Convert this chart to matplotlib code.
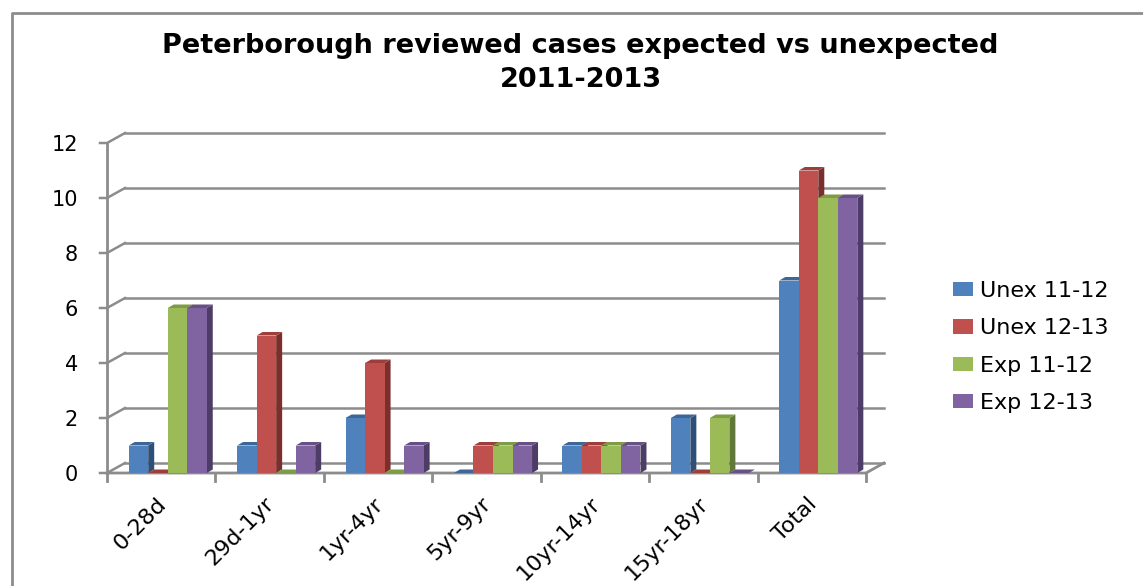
import matplotlib
matplotlib.use("Agg")
import matplotlib.pyplot as plt
from matplotlib.patches import Polygon, Patch
import numpy as np

categories = ["0-28d", "29d-1yr", "1yr-4yr", "5yr-9yr", "10yr-14yr", "15yr-18yr", "Total"]
series_names = ["Unex 11-12", "Unex 12-13", "Exp 11-12", "Exp 12-13"]
unex_11_12 = [1, 1, 2, 0, 1, 2, 7]
unex_12_13 = [0, 5, 4, 1, 1, 0, 11]
exp_11_12 = [6, 0, 0, 1, 1, 2, 10]
exp_12_13 = [6, 1, 1, 1, 1, 0, 10]
yticks = [0, 2, 4, 6, 8, 10, 12]

series = [unex_11_12, unex_12_13, exp_11_12, exp_12_13]
front = ["#4F81BD", "#C0504D", "#9BBB59", "#8064A2"]
top = ["#3C6797", "#9E3E3B", "#7E9B46", "#675085"]
side = ["#2F4F78", "#7A2F2D", "#61783A", "#4D3C66"]
grid_c = "#8C8C8C"

W, H = 1143, 586
fig = plt.figure(figsize=(W / 100, H / 100), dpi=100)

# axes placed so that x unit ~108 px, y unit ~27.5 px
x0_px, y0_px = 107, H - 473
ux, uy = (866 - 107) / 7, (473 - 143) / 12
xmax, ymax = 7.32, 12.6
ax = fig.add_axes([x0_px / W, y0_px / H, xmax * ux / W, ymax * uy / H])
ax.set_xlim(0, xmax)
ax.set_ylim(0, ymax)
for s in ax.spines.values():
    s.set_visible(False)

# wall depth in data units
wdx, wdy = 18 / ux, 10 / uy
n = len(categories)
for v in yticks:
    ax.plot([wdx, n + wdx], [v + wdy, v + wdy], color=grid_c, lw=1.8, zorder=1)
    ax.plot([-7 / ux, 0, wdx], [v, v, v + wdy], color=grid_c, lw=1.8, zorder=1, clip_on=False)
ax.plot([0, 0], [0, 12], color=grid_c, lw=2, zorder=1, clip_on=False)
ax.plot([0, n, n + wdx], [0, 0, wdy], color=grid_c, lw=2, zorder=1, clip_on=False)
for i in range(n + 1):
    ax.plot([i, i], [0, -8 / uy], color=grid_c, lw=2, zorder=1, clip_on=False)

# 3D-like bars
bw = 0.18
bdx, bdy = 6 / ux, 3.5 / uy
z = 2
for i in range(n):
    for k, vals in enumerate(series):
        x = i + 0.2 + k * bw
        v = vals[i]
        ax.add_patch(Polygon([(x + bw, 0), (x + bw + bdx, bdy), (x + bw + bdx, v + bdy), (x + bw, v)],
                             closed=True, facecolor=side[k], edgecolor="none", zorder=z))
        ax.add_patch(Polygon([(x, v), (x + bdx, v + bdy), (x + bw + bdx, v + bdy), (x + bw, v)],
                             closed=True, facecolor=top[k], edgecolor="none", zorder=z))
        ax.bar(x, v, width=bw, align="edge", color=front[k], edgecolor="none", zorder=z)
        z += 0.01

ax.set_yticks(yticks)
ax.set_yticklabels([str(t) for t in yticks], fontsize=15)
ax.tick_params(axis="y", length=0, pad=21)
ax.set_xticks([i + 0.45 for i in range(n)])
ax.set_xticklabels(categories, fontsize=16, rotation=45, ha="right", va="top", rotation_mode="anchor")
ax.tick_params(axis="x", length=0, pad=15)

fig.text(0.508, 1 - 46 / H, "Peterborough reviewed cases expected vs unexpected",
         ha="center", va="center", fontsize=19.5, fontweight="bold")
fig.text(0.508, 1 - 80 / H, "2011-2013",
         ha="center", va="center", fontsize=19.5, fontweight="bold")

handles = [Patch(facecolor=c, edgecolor="none") for c in front]
fig.legend(handles, series_names, loc="center left", bbox_to_anchor=(933 / W, 1 - 347 / H),
           fontsize=16, frameon=False, handlelength=0.9, handleheight=0.6,
           handletextpad=0.3, labelspacing=0.78)

# outer chart border (top and left edges visible)
fig.add_artist(plt.Line2D([12 / W, 12 / W, 1], [0, 1 - 13 / H, 1 - 13 / H],
                          transform=fig.transFigure, color="#8C8C8C", lw=2))

fig.savefig("out.png", dpi=100)
